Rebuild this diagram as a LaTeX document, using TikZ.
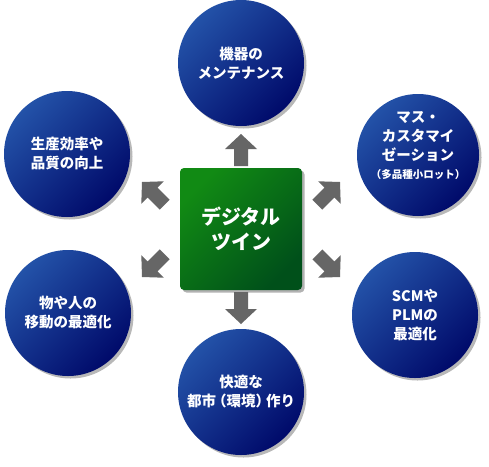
\documentclass[tikz,border=0pt]{standalone}
\usepackage{fontspec}
\setmainfont{Noto Sans CJK JP}
\usetikzlibrary{shadows}
\definecolor{bluelight}{HTML}{2352A8}
\definecolor{bluedark}{HTML}{000A6A}
\definecolor{greenlight}{HTML}{118A14}
\definecolor{greendark}{HTML}{00501A}
\definecolor{arrowgray}{HTML}{666666}
\newcommand{\smallfnt}{\fontsize{10.5}{14}\selectfont}
\tikzset{
  bubble/.style={circle, minimum size=126pt, inner sep=0pt, draw=none,
    top color=bluelight, bottom color=bluedark, shading angle=45,
    drop shadow={shadow xshift=2.5pt, shadow yshift=-2.5pt, opacity=0.28, fill=black},
    text=white, align=center, font=\fontsize{14.5}{19}\selectfont\bfseries},
  bubbletext/.style={text=white, align=center, inner sep=0pt, font=\fontsize{14.5}{19}\selectfont\bfseries},
  corebox/.style={rectangle, rounded corners=4pt, minimum size=122pt, inner sep=0pt,
    top color=greenlight, bottom color=greendark, shading angle=45,
    drop shadow={shadow xshift=2.5pt, shadow yshift=-2.5pt, opacity=0.3, fill=black},
    text=white, align=center, font=\fontsize{20}{25}\selectfont\bfseries}
}
\newcommand{\blockarrow}[3]{%
  \fill[arrowgray, shift={(#1,#2)}, rotate=#3]
    (0,0) -- (-15,-16) -- (-15,-7) -- (-32,-7) -- (-32,7) -- (-15,7) -- (-15,16) -- cycle;}
\begin{document}
\begin{tikzpicture}[x=1pt,y=-1pt]
\useasboundingbox (0,0) rectangle (489,466);
\fill[white] (0,0) rectangle (489,466);
% center
\node[corebox] (core) at (241,229) {デジタル\\ツイン};
% bubbles
\node[bubble] (top) at (241,63) {機器の\\メンテナンス};
\node[bubble] (bottom) at (241,392) {快適な\\都市\kern-4pt（環境）\kern-4pt作り};
\node[bubble, minimum size=122pt] (ur) at (418,155) {};
\node[bubbletext] (urtext) at (418,146) {マス・\\カスタマイ\\ゼーション\\[-1pt]{\smallfnt （多品種小ロット）}};
\node[bubble] (ul) at (67,154) {生産効率や\\品質の向上};
\node[bubble] (ll) at (68,313) {物や人の\\移動の最適化};
\node[bubble] (lr) at (415,315) {SCMや\\PLMの\\最適化};
% arrows
\blockarrow{241}{134}{90}
\blockarrow{241}{324}{-90}
\blockarrow{142}{182}{135}
\blockarrow{142}{277}{-135}
\blockarrow{340}{182}{45}
\blockarrow{340}{277}{-45}
\end{tikzpicture}
\end{document}
